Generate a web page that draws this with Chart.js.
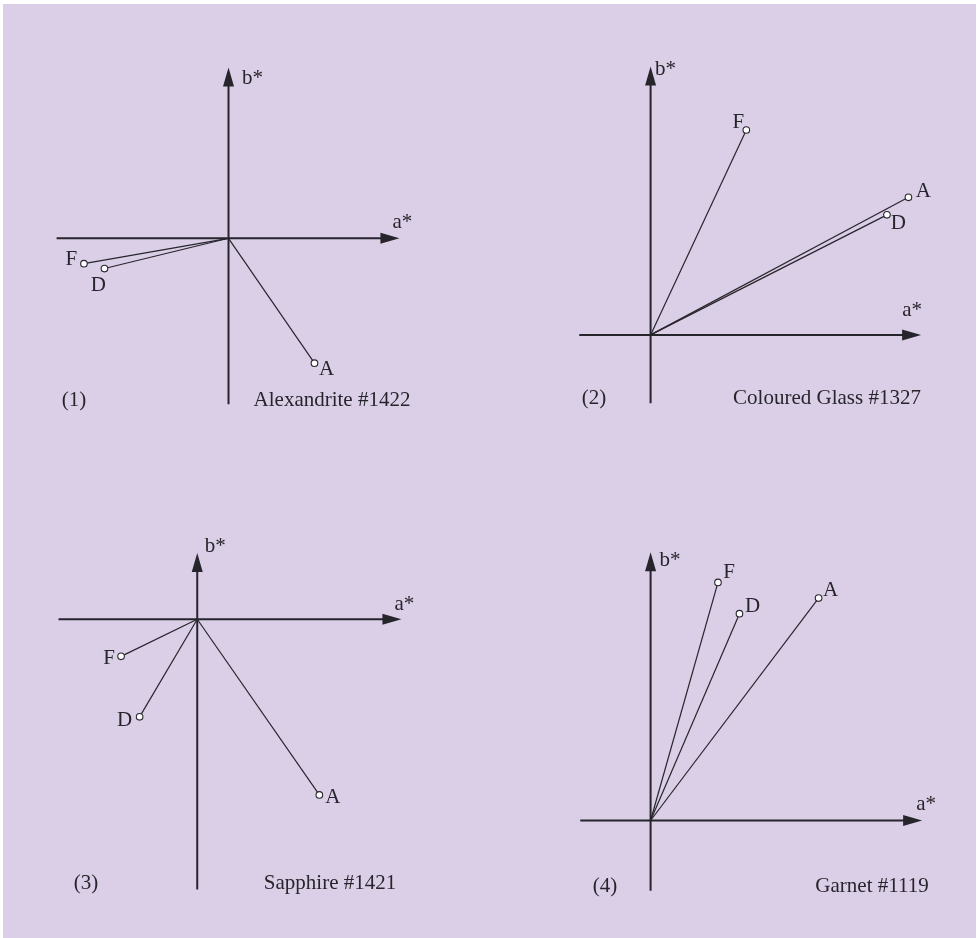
<!DOCTYPE html>
<html>
<head>
<meta charset="utf-8">
<script src="https://cdn.jsdelivr.net/npm/chart.js@4.4.0/dist/chart.umd.min.js"></script>
<style>
  body { margin: 0; background: #fff; overflow: hidden; }
  #sheet { position: absolute; left: 3px; top: 4px; width: 973px; height: 934px; background: #dbcfe8; }
  canvas { position: absolute; }
</style>
</head>
<body>
<div id="sheet"></div>
<canvas id="p1"></canvas>
<canvas id="p2"></canvas>
<canvas id="p3"></canvas>
<canvas id="p4"></canvas>
<script>
// illuminants, same order in every panel
var illuminants = ['F', 'D', 'A'];

// a*, b* end points (arbitrary units)
var alexandriteA = [-148, -127, 88];
var alexandriteB = [-26, -31, -128];
var glassA = [98, 242, 264];
var glassB = [210, 123, 141];
var sapphireA = [-78, -59, 125];
var sapphireB = [-38, -100, -180];
var garnetA = [69, 91, 172];
var garnetB = [244, 212, 228];

// axis extents: [a min, a max, b min, b max]
var alexandriteAxes = [-176, 175, -170, 175];
var glassAxes = [-73, 277, -70, 275];
var sapphireAxes = [-142, 209, -277, 68];
var garnetAxes = [-72, 278, -72, 275];

var panelNumbers = ['(1)', '(2)', '(3)', '(4)'];
var panelNames = ['Alexandrite #1422', 'Coloured Glass #1327', 'Sapphire #1421', 'Garnet #1119'];

var INK = '#27252c';
var FONT = '21px "Liberation Serif", "Times New Roman", serif';

// layout only: canvas box, origin, label offsets (page px)
var panels = [
	{ id: 'p1', a: alexandriteA, b: alexandriteB, axes: alexandriteAxes,
	  box: [30, 40, 440, 420], origin: [228, 238],
	  lab: [[-12.5, 1.5], [-6, 22], [12, 12]], bLab: [24, 16], aLab: [3, -10],
	  num: [74, 406], name: [332, 406] },
	{ id: 'p2', a: glassA, b: glassB, axes: glassAxes,
	  box: [540, 40, 438, 420], origin: [648, 337],
	  lab: [[-8, -2], [11.5, 14], [15, -0.5]], bLab: [15, 8], aLab: [-9, -19],
	  num: [594, 404], name: [827, 404] },
	{ id: 'p3', a: sapphireA, b: sapphireB, axes: sapphireAxes,
	  box: [30, 500, 440, 420], origin: [196, 617],
	  lab: [[-12, 8], [-15, 9], [13.5, 8]], bLab: [18, -0.5], aLab: [3, -9],
	  num: [86, 889], name: [330, 889] },
	{ id: 'p4', a: garnetA, b: garnetB, axes: garnetAxes,
	  box: [540, 510, 438, 420], origin: [648, 823],
	  lab: [[11, -4.5], [13, -2], [12, -2]], bLab: [19.5, 14], aLab: [4, -10],
	  num: [605, 892], name: [872, 892] }
];

function arrow(ctx, x, y, dx, dy) {
	// filled arrow head, tip at x,y pointing along dx,dy
	var len = 19, half = 5.5;
	ctx.beginPath();
	ctx.moveTo(x, y);
	ctx.lineTo(x - dx * len - dy * half, y - dy * len + dx * half);
	ctx.lineTo(x - dx * len + dy * half, y - dy * len - dx * half);
	ctx.closePath();
	ctx.fill();
}

var axesPlugin = {
	id: 'labAxes',
	beforeDatasetsDraw: function(chart) {
		var p = chart.options.plugins.labAxes.panel;
		var ctx = chart.ctx, xs = chart.scales.x, ys = chart.scales.y;
		var ox = xs.getPixelForValue(0), oy = ys.getPixelForValue(0);
		var x0 = xs.getPixelForValue(p.axes[0]), x1 = xs.getPixelForValue(p.axes[1]);
		var y0 = ys.getPixelForValue(p.axes[2]), y1 = ys.getPixelForValue(p.axes[3]);
		ctx.save();
		ctx.strokeStyle = INK;
		ctx.fillStyle = INK;
		ctx.lineWidth = 2;
		ctx.beginPath();
		ctx.moveTo(x0, oy); ctx.lineTo(x1 - 10, oy);
		ctx.moveTo(ox, y0); ctx.lineTo(ox, y1 + 10);
		ctx.stroke();
		arrow(ctx, x1, oy, 1, 0);
		arrow(ctx, ox, y1, 0, -1);
		ctx.restore();
	},
	afterDatasetsDraw: function(chart) {
		var p = chart.options.plugins.labAxes.panel;
		var ctx = chart.ctx, xs = chart.scales.x, ys = chart.scales.y;
		var ox = xs.getPixelForValue(0), oy = ys.getPixelForValue(0);
		var bx = p.box[0], by = p.box[1];
		ctx.save();
		ctx.fillStyle = INK;
		ctx.font = FONT;
		ctx.textBaseline = 'alphabetic';
		ctx.textAlign = 'center';
		illuminants.forEach(function(name, i) {
			var px = xs.getPixelForValue(p.a[i]), py = ys.getPixelForValue(p.b[i]);
			ctx.fillText(name, px + p.lab[i][0], py + p.lab[i][1]);
		});
		var tipA = xs.getPixelForValue(p.axes[1]), tipB = ys.getPixelForValue(p.axes[3]);
		ctx.fillText('a*', tipA + p.aLab[0], oy + p.aLab[1]);
		ctx.fillText('b*', ox + p.bLab[0], tipB + p.bLab[1]);
		ctx.fillText(p.numText, p.num[0] - bx, p.num[1] - by);
		ctx.fillText(p.nameText, p.name[0] - bx, p.name[1] - by);
		ctx.restore();
	}
};

panels.forEach(function(p, k) {
	var canvas = document.getElementById(p.id);
	var left = p.box[0], top = p.box[1], w = p.box[2], h = p.box[3];
	canvas.width = w;
	canvas.height = h;
	canvas.style.left = left + 'px';
	canvas.style.top = top + 'px';
	p.numText = panelNumbers[k];
	p.nameText = panelNames[k];

	var datasets = illuminants.map(function(name, i) {
		return {
			label: name,
			data: [{ x: 0, y: 0 }, { x: p.a[i], y: p.b[i] }],
			showLine: true,
			borderColor: INK,
			borderWidth: 1.2,
			pointRadius: [0, 3.3],
			pointBackgroundColor: '#ffffff',
			pointBorderColor: INK,
			pointBorderWidth: 1.1,
			clip: false
		};
	});

	new Chart(canvas, {
		type: 'scatter',
		data: { datasets: datasets },
		options: {
			responsive: false,
			animation: false,
			events: [],
			layout: { padding: 0 },
			plugins: {
				legend: { display: false },
				tooltip: { enabled: false },
				labAxes: { panel: p }
			},
			scales: {
				x: { type: 'linear', display: false, min: left - p.origin[0], max: left + w - p.origin[0] },
				y: { type: 'linear', display: false, min: p.origin[1] - (top + h), max: p.origin[1] - top }
			}
		},
		plugins: [axesPlugin]
	});
});
</script>
</body>
</html>
